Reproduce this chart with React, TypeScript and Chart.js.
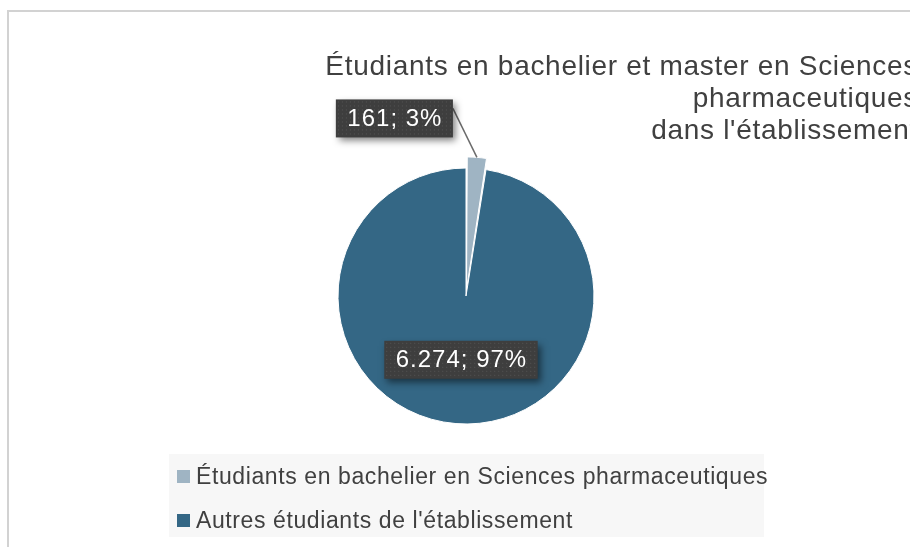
import React, { useEffect, useRef } from "react";
import { Chart, registerables } from "chart.js";

Chart.register(...registerables);

const titleLines = [
  "Étudiants en bachelier et master en Sciences",
  "pharmaceutiques",
  "dans l'établissement",
];
const categories = [
  "Étudiants en bachelier en Sciences pharmaceutiques",
  "Autres étudiants de l'établissement",
];
const values = [161, 6274];
const sliceColors = ["#9fb4c3", "#346785"];
const sliceOffsets = [24, 0];

const FONT = "'Liberation Sans', Arial, Helvetica, sans-serif";

function fmtThousands(n: number): string {
  const s = String(Math.round(n));
  return s.replace(/\B(?=(\d{3})+(?!\d))/g, ".");
}

const boxLabelPlugin = {
  id: "boxLabels",
  afterDatasetsDraw(chart: any) {
    const ctx: CanvasRenderingContext2D = chart.ctx;
    const meta = chart.getDatasetMeta(0);
    const total = values.reduce((a, b) => a + b, 0);
    meta.data.forEach((arc: any, i: number) => {
      const p = arc.getProps(["x", "y", "startAngle", "endAngle", "outerRadius"], true);
      const mid = (p.startAngle + p.endAngle) / 2;
      const text = `${fmtThousands(values[i])}; ${Math.round((values[i] / total) * 100)}%`;
      ctx.save();
      ctx.font = `24px ${FONT}`;
      (ctx as any).letterSpacing = "1px";
      const tw = ctx.measureText(text).width;
      const w = tw + 22;
      const h = 38;
      let bx: number, by: number;
      if (i === 0) {
        const ax = p.x + Math.cos(mid) * (p.outerRadius + 11);
        const ay = p.y + Math.sin(mid) * (p.outerRadius + 11);
        bx = ax - 24 - w;
        by = ay - 58;
        ctx.strokeStyle = "#6b6b6b";
        ctx.lineWidth = 1.5;
        ctx.beginPath();
        ctx.moveTo(bx + w, by + 9);
        ctx.lineTo(ax, ay);
        ctx.stroke();
      } else {
        const tp = arc.tooltipPosition(true);
        bx = tp.x - w / 2;
        by = tp.y - h / 2;
      }
      ctx.save();
      ctx.shadowColor = "rgba(0,0,0,0.5)";
      ctx.shadowBlur = 7;
      ctx.shadowOffsetX = 3;
      ctx.shadowOffsetY = 4;
      ctx.fillStyle = "#3e3e3e";
      ctx.fillRect(bx, by, w, h);
      ctx.restore();
      ctx.fillStyle = "rgba(255,255,255,0.13)";
      for (let yy = by + 2; yy < by + h - 1; yy += 4) {
        for (let xx = bx + 2; xx < bx + w - 1; xx += 4) {
          ctx.fillRect(xx, yy, 1, 1);
        }
      }
      ctx.fillStyle = "#ffffff";
      ctx.textAlign = "center";
      ctx.textBaseline = "middle";
      ctx.fillText(text, bx + w / 2 + 0.5, by + h / 2 + 1);
      ctx.restore();
    });
  },
};

export default function App() {
  const canvasRef = useRef<HTMLCanvasElement | null>(null);

  useEffect(() => {
    const canvas = canvasRef.current;
    if (!canvas) return;
    const chart = new Chart(canvas, {
      type: "pie",
      data: {
        labels: categories,
        datasets: [
          {
            data: values,
            backgroundColor: sliceColors,
            borderColor: "#ffffff",
            borderWidth: 1,
            offset: sliceOffsets,
          },
        ],
      },
      options: {
        animation: false,
        responsive: false,
        devicePixelRatio: 1,
        radius: 128,
        layout: { padding: { left: 200, right: 178, top: 120, bottom: 75 } },
        plugins: {
          legend: { display: false },
          title: { display: false },
          tooltip: { enabled: false },
        },
      } as any,
      plugins: [boxLabelPlugin],
    });
    return () => chart.destroy();
  }, []);

  return (
    <div
      style={{
        position: "fixed",
        left: 0,
        top: 0,
        width: 910,
        height: 547,
        overflow: "hidden",
        background: "#ffffff",
        fontFamily: FONT,
      }}
    >
      <div
        style={{
          position: "absolute",
          left: 7,
          top: 10,
          right: -10,
          bottom: -10,
          borderLeft: "2px solid #d2d2d2",
          borderTop: "2px solid #d2d2d2",
        }}
      />
      <canvas
        ref={canvasRef}
        width={910}
        height={547}
        style={{ position: "absolute", left: 0, top: 0, width: 910, height: 547, display: "block" }}
      />
      <div
        style={{
          position: "absolute",
          right: -8,
          top: 50,
          textAlign: "right",
          fontSize: 28,
          lineHeight: "32px",
          letterSpacing: "0.7px",
          color: "#404040",
          whiteSpace: "nowrap",
        }}
      >
        {titleLines.map((t, i) => (
          <div key={i}>{t}</div>
        ))}
      </div>
      <div
        style={{
          position: "absolute",
          left: 169,
          top: 454,
          width: 595,
          height: 83,
          background: "#f7f7f7",
        }}
      >
        {categories.map((c, i) => (
          <div
            key={i}
            style={{
              position: "absolute",
              left: 8,
              top: i * 44,
              height: 44,
              display: "flex",
              alignItems: "center",
              whiteSpace: "nowrap",
            }}
          >
            <span
              style={{
                display: "inline-block",
                width: 13,
                height: 13,
                background: sliceColors[i],
                marginRight: 6,
              }}
            />
            <span style={{ fontSize: 23, letterSpacing: "0.6px", color: "#404040" }}>{c}</span>
          </div>
        ))}
      </div>
    </div>
  );
}
